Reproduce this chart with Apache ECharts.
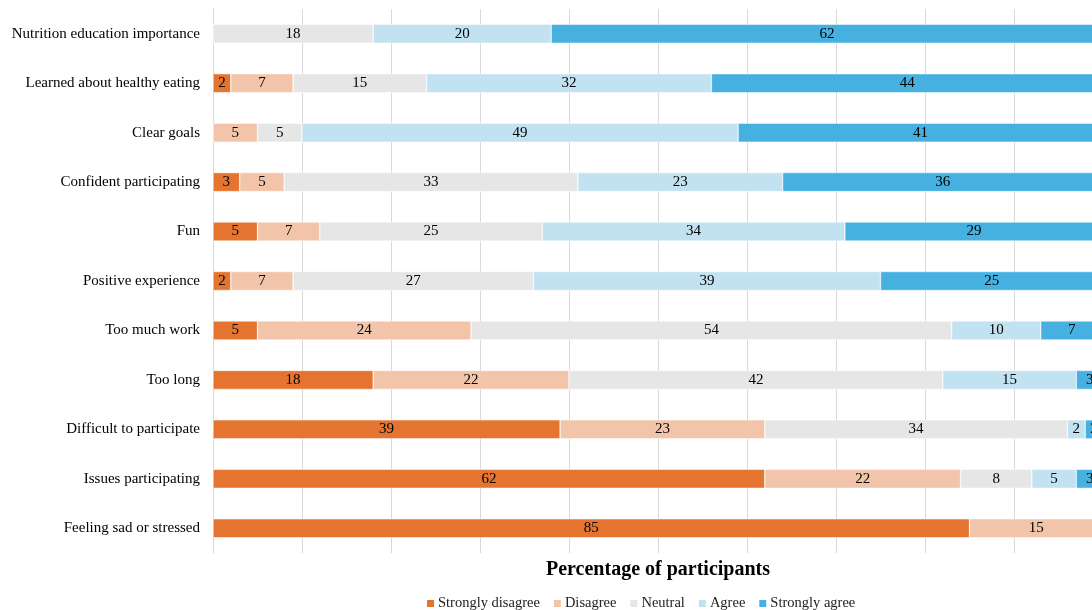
<!DOCTYPE html>
<html>
<head>
<meta charset="utf-8">
<script src="https://cdn.jsdelivr.net/npm/echarts@6/dist/echarts.min.js"></script>
<style>
  html, body { margin: 0; padding: 0; background: #fff; }
  #chart { width: 1092px; height: 610px; }
</style>
</head>
<body>
<div id="chart"></div>
<script>
// categories, top to bottom
const categories = [
  'Nutrition education importance',
  'Learned about healthy eating',
  'Clear goals',
  'Confident participating',
  'Fun',
  'Positive experience',
  'Too much work',
  'Too long',
  'Difficult to participate',
  'Issues participating',
  'Feeling sad or stressed'
];

const stronglyDisagree = [0, 2, 0, 3, 5, 2, 5, 18, 39, 62, 85];
const disagree         = [0, 7, 5, 5, 7, 7, 24, 22, 23, 22, 15];
const neutral          = [18, 15, 5, 33, 25, 27, 54, 42, 34, 8, 0];
const agree            = [20, 32, 49, 23, 34, 39, 10, 15, 2, 5, 0];
const stronglyAgree    = [62, 44, 41, 36, 29, 25, 7, 3, 2, 3, 0];

const seriesNames = ['Strongly disagree', 'Disagree', 'Neutral', 'Agree', 'Strongly agree'];
const seriesData = [stronglyDisagree, disagree, neutral, agree, stronglyAgree];
const colors = ['#E67431', '#F2C5AA', '#E6E6E6', '#C2E1F1', '#46B0E0'];

const font = '"Liberation Serif", "DejaVu Serif", serif';

const chart = echarts.init(document.getElementById('chart'), null, { renderer: 'canvas' });

// plot runs past the right edge of the canvas, as in the original
chart.setOption({
  animation: false,
  color: colors,
  textStyle: { fontFamily: font },
  grid: {
    left: 213,
    width: 890,
    top: 9,
    bottom: 57,
    containLabel: false,
    outerBoundsMode: 'none'
  },
  legend: {
    left: 420,
    top: 591,
    itemWidth: 9,
    itemHeight: 9,
    itemGap: 12,
    icon: 'rect',
    textStyle: { fontFamily: font, fontSize: 14.5, color: '#222', padding: [0, 0, 0, -2] },
    data: seriesNames
  },
  xAxis: {
    type: 'value',
    min: 0,
    max: 100,
    interval: 10,
    name: 'Percentage of participants',
    nameLocation: 'middle',
    nameGap: 7,
    nameTextStyle: { fontFamily: font, fontSize: 20, fontWeight: 'bold', color: '#000', verticalAlign: 'top' },
    axisLine: { show: false },
    axisTick: { show: false },
    axisLabel: { show: false },
    splitLine: { show: true, lineStyle: { color: '#D9D9D9', width: 1 } }
  },
  yAxis: {
    type: 'category',
    inverse: true,
    data: categories,
    axisLine: { show: true, lineStyle: { color: '#D9D9D9' } },
    axisTick: { show: false },
    axisLabel: { fontFamily: font, fontSize: 15, color: '#000', margin: 13 }
  },
  series: seriesData.map((arr, i) => ({
    name: seriesNames[i],
    type: 'bar',
    stack: 'total',
    barWidth: 19,
    data: arr,
    itemStyle: { borderColor: '#fff', borderWidth: 0.5 },
    label: {
      show: true,
      position: 'inside',
      fontFamily: font,
      fontSize: 15,
      color: '#000',
      formatter: p => (p.value ? p.value : '')
    }
  }))
});
</script>
</body>
</html>
